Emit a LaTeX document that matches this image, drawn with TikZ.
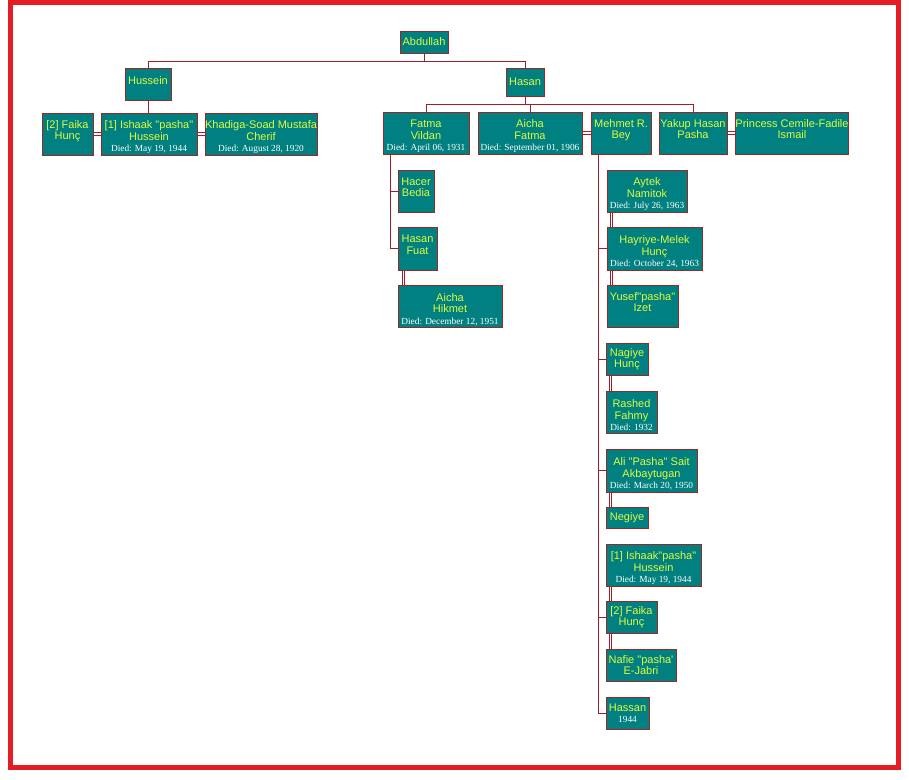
\documentclass[tikz,border=0pt]{standalone}
\usepackage{fontspec}
\usepackage{tikz}

\newfontfamily\namefont{Liberation Sans}[Ligatures=TeXOff]
\newfontfamily\datefont{Liberation Serif}

\definecolor{boxteal}{RGB}{0,128,128}
\definecolor{boxline}{RGB}{150,40,40}
\definecolor{linkred}{RGB}{160,30,40}
\definecolor{nametext}{RGB}{225,252,60}
\definecolor{framered}{RGB}{228,28,36}

\newcommand{\died}[1]{{\datefont\fontsize{7}{8}\selectfont\color{white}#1}}
\newcommand{\padline}{\\[-3pt]\mbox{}}
\newcommand{\lift}{\rule{0pt}{11pt}}

\tikzset{
  person/.style={draw=boxline, fill=boxteal, text=nametext, line width=0.75pt, inner sep=0pt, align=center, font=\namefont\fontsize{8.25}{8.6}\selectfont},
  boxsize/.style 2 args={minimum width=#1*0.75pt, minimum height=#2*0.75pt},
  link/.style={draw=linkred, line width=0.75pt},
  spouse/.style={draw=linkred, double=white, line width=0.75pt, double distance=1.1pt},
}

\begin{document}
\begin{tikzpicture}[x=0.75pt,y=0.75pt,yscale=-1,xscale=1]
\useasboundingbox (0,0) rectangle (909,779);

%Shape: Frame
\draw [framered, line width=3.75pt] (10.5,2.5) rectangle (898.5,767.5);

% Top
\node [person, boxsize={48}{22}] (abdullah) at (424,42) {Abdullah};
\node [person, boxsize={46}{32}] (hussein) at (148,84) {Hussein\padline};
\node [person, boxsize={38}{28}] (hasan) at (525,82) {Hasan};

% Hussein row
\node [person, boxsize={51}{42}] (faika) at (67.5,134) {[2] Faika\\Hunç\padline};
\node [person, boxsize={96}{42}] (ishaak) at (149,134) {\lift[1] Ishaak "pasha"\\Hussein\\\died{Died: May 19, 1944}};
\node [person, boxsize={112}{42}] (khadiga) at (261,134) {\lift Khadiga-Soad Mustafa\\Cherif\\\died{Died: August 28, 1920}};

% Hasan row
\node [person, boxsize={86}{42}] (fatma) at (426,133) {\lift Fatma\\Vildan\\\died{Died: April 06, 1931}};
\node [person, boxsize={104}{42}] (aichaF) at (530,133) {\lift Aicha\\Fatma\\\died{Died: September 01, 1906}};
\node [person, boxsize={60}{42}] (mehmet) at (621,133) {Mehmet R.\\Bey\padline};
\node [person, boxsize={68}{42}] (yakup) at (693,133) {Yakup Hasan\\Pasha\padline};
\node [person, boxsize={112}{42}] (princess) at (792,133) {Princess Cemile-Fadile\\Ismail\padline};

% Fatma column
\node [person, boxsize={36}{42}] (hacer) at (416,191) {Hacer\\Bedia\padline};
\node [person, boxsize={39}{43}] (hasanF) at (417.5,248.5) {Hasan\\Fuat\padline};
\node [person, boxsize={104}{42}] (aichaH) at (450,306) {\lift Aicha\\Hikmet\\\died{Died: December 12, 1951}};

% Mehmet column
\node [person, boxsize={80}{42}] (aytek) at (647,191) {\lift Aytek\\Namitok\\\died{Died: July 26, 1963}};
\node [person, boxsize={95}{43}] (hayriye) at (654.5,248.5) {\lift Hayriye-Melek\\Hunç\\\died{Died: October 24, 1963}};
\node [person, boxsize={71}{42}] (yusef) at (642.5,306) {Yusef"pasha"\\Izet\padline};
\node [person, boxsize={42}{32}] (nagiye) at (627,359) {Nagiye\\Hunç};
\node [person, boxsize={51}{42}] (rashed) at (631.5,412) {\lift Rashed\\Fahmy\\\died{Died: 1932}};
\node [person, boxsize={91}{43}] (ali) at (651.5,470.5) {\lift Ali "Pasha" Sait\\Akbaytugan\\\died{Died: March 20, 1950}};
\node [person, boxsize={42}{21}] (negiye) at (627,517.5) {Negiye};
\node [person, boxsize={95}{42}] (ishaakB) at (653.5,565) {\lift[1] Ishaak"pasha"\\Hussein\\\died{Died: May 19, 1944}};
\node [person, boxsize={51}{32}] (faikaB) at (631.5,617) {[2] Faika\\Hunç};
\node [person, boxsize={70}{32}] (nafie) at (641,665) {Nafie "pasha'\\E-Jabri};
\node [person, boxsize={43}{32}] (hassan) at (627.5,713) {Hassan\\\died{1944}};

% Straight Lines: descent
\draw [link] (abdullah.south) -- ++(0,8) -| (hussein.north);
\draw [link] (abdullah.south) -- ++(0,8) -| (hasan.north);
\draw [link] (hussein.south) -- (hussein.south |- ishaak.north);
\draw [link] (hasan.south) -- ++(0,8) -| (fatma.north);
\draw [link] (hasan.south) -- ++(0,8) -| (aichaF.north);
\draw [link] (hasan.south) -- ++(0,8) -| (yakup.north);
\draw [link] ([xshift=6pt]fatma.south west) |- (hacer.west);
\draw [link] ([xshift=6pt]fatma.south west) |- (hasanF.west);
\draw [link] ([xshift=6pt]mehmet.south west) |- (hayriye.west);
\draw [link] ([xshift=6pt]mehmet.south west) |- (nagiye.west);
\draw [link] ([xshift=6pt]mehmet.south west) |- (ali.west);
\draw [link] ([xshift=6pt]mehmet.south west) |- (faikaB.west);
\draw [link] ([xshift=6pt]mehmet.south west) |- (hassan.west);

% Double Lines: marriages
\draw [spouse] (faika.east) -- (ishaak.west);
\draw [spouse] (ishaak.east) -- (khadiga.west);
\draw [spouse] (aichaF.east) -- (mehmet.west);
\draw [spouse] (yakup.east) -- (princess.west);
\draw [spouse] ([xshift=4.5pt]hasanF.south west) -- ([xshift=4.5pt]aichaH.north west);
\draw [spouse] ([xshift=3.75pt]aytek.south west) -- ([xshift=3.75pt]hayriye.north west);
\draw [spouse] ([xshift=3.75pt]hayriye.south west) -- ([xshift=3.75pt]yusef.north west);
\draw [spouse] ([xshift=3.75pt]nagiye.south west) -- ([xshift=3.75pt]rashed.north west);
\draw [spouse] ([xshift=3.75pt]ali.south west) -- ([xshift=3.75pt]negiye.north west);
\draw [spouse] ([xshift=3.75pt]ishaakB.south west) -- ([xshift=3.75pt]faikaB.north west);
\draw [spouse] ([xshift=3.75pt]faikaB.south west) -- ([xshift=3.75pt]nafie.north west);

\end{tikzpicture}
\end{document}
